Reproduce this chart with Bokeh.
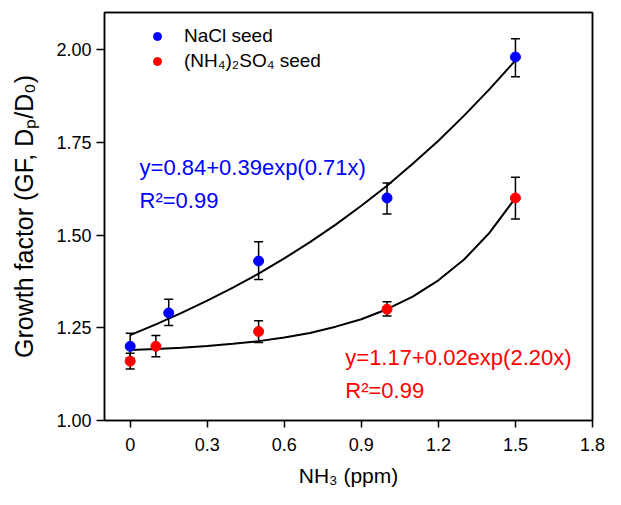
from bokeh.plotting import figure
from bokeh.models import (Range1d, FixedTicker, PrintfTickFormatter, CustomJSTickFormatter,
                          Label, Legend, LegendItem, LinearAxis)
from bokeh.embed import file_html
from bokeh.resources import INLINE

# ---------------- data ----------------
nacl_x = [0.0, 0.15, 0.5, 1.0, 1.5]
nacl_gf = [1.20, 1.29, 1.43, 1.60, 1.98]
nacl_lo = [1.168, 1.256, 1.380, 1.557, 1.927]
nacl_hi = [1.235, 1.327, 1.482, 1.640, 2.029]

as_x = [0.0, 0.1, 0.5, 1.0, 1.5]
as_gf = [1.16, 1.20, 1.24, 1.30, 1.60]
as_lo = [1.139, 1.172, 1.210, 1.282, 1.543]
as_hi = [1.181, 1.229, 1.269, 1.320, 1.656]

fit_x = [0.0, 0.1, 0.2, 0.3, 0.4, 0.5, 0.6, 0.7, 0.8, 0.9, 1.0, 1.1, 1.2, 1.3, 1.4, 1.5]
nacl_fit = [1.230, 1.259, 1.290, 1.323, 1.358, 1.396, 1.437, 1.481, 1.528, 1.579,
            1.633, 1.692, 1.754, 1.822, 1.894, 1.971]
as_fit = [1.190, 1.193, 1.196, 1.201, 1.207, 1.214, 1.224, 1.236, 1.253, 1.273,
          1.300, 1.334, 1.378, 1.434, 1.507, 1.600]

x_ticks = [0, 0.3, 0.6, 0.9, 1.2, 1.5, 1.8]
y_ticks = [1.00, 1.25, 1.50, 1.75, 2.00]

legend_labels = ["NaCl seed", "(NH\u2084)\u2082SO\u2084 seed"]
nacl_eq = ["y=0.84+0.39exp(0.71x)", "R\u00b2=0.99"]
as_eq = ["y=1.17+0.02exp(2.20x)", "R\u00b2=0.99"]
x_title = "NH\u2083 (ppm)"
y_title = "Growth factor (GF, D\u209a/D\u2080)"

# ---------------- styling ----------------
FONT = "Liberation Sans"
BLUE = "#0000FF"
RED = "#FF0000"
W, H = 605, 489
ML, MR, MT, MB = 104, 13, 12, 69
FW, FH = W - ML - MR, H - MT - MB

p = figure(width=W, height=H, x_range=Range1d(-0.1, 1.8), y_range=Range1d(1.0, 2.1),
           output_backend="svg", toolbar_location=None,
           min_border_left=ML, min_border_right=MR, min_border_top=MT, min_border_bottom=MB)
p.xgrid.visible = False
p.ygrid.visible = False
p.background_fill_color = "white"
p.border_fill_color = "white"
p.outline_line_color = "black"
p.outline_line_width = 1.5
p.outline_line_alpha = 1.0


def style_axis(ax):
    ax.axis_line_color = "black"
    ax.axis_line_width = 1.5
    ax.major_tick_line_color = "black"
    ax.major_tick_line_width = 1.5
    ax.major_tick_in = 0
    ax.minor_tick_in = 0
    ax.minor_tick_out = 0
    ax.major_label_text_font = FONT
    ax.major_label_text_font_size = "18px"
    ax.major_label_text_color = "black"
    ax.axis_label_text_font = FONT
    ax.axis_label_text_font_style = "normal"
    ax.axis_label_text_color = "black"


xa = p.xaxis[0]
style_axis(xa)
xa.ticker = FixedTicker(ticks=x_ticks)
xa.formatter = CustomJSTickFormatter(code="return tick == 0 ? '0' : tick.toFixed(1);")
xa.major_tick_out = 7
xa.major_label_standoff = 10
xa.axis_label = x_title
xa.axis_label_text_font_size = "21px"
xa.axis_label_standoff = 10

ya = p.yaxis[0]
style_axis(ya)
ya.ticker = FixedTicker(ticks=y_ticks)
ya.formatter = PrintfTickFormatter(format="%.2f")
ya.major_tick_out = 8
ya.major_label_standoff = 5
ya.axis_label = y_title
ya.axis_label_text_font_size = "25px"
ya.axis_label_standoff = 15

# closing frame lines on top and right (no ticks)
for side in ("above", "right"):
    ax = LinearAxis(ticker=FixedTicker(ticks=[]))
    style_axis(ax)
    ax.major_tick_out = 0
    p.add_layout(ax, side)

# ---------------- marks ----------------
p.line(fit_x, nacl_fit, line_color="black", line_width=2)
p.line(fit_x, as_fit, line_color="black", line_width=2)

for xs, lo, hi in ((nacl_x, nacl_lo, nacl_hi), (as_x, as_lo, as_hi)):
    p.segment(x0=xs, y0=lo, x1=xs, y1=hi, line_color="black", line_width=1.5)
    p.scatter(xs, lo, marker="dash", size=9, line_color="black", line_width=1.5)
    p.scatter(xs, hi, marker="dash", size=9, line_color="black", line_width=1.5)

r_nacl = p.scatter(nacl_x, nacl_gf, marker="circle", size=10, fill_color=BLUE, line_color=BLUE)
r_as = p.scatter(as_x, as_gf, marker="circle", size=10, fill_color=RED, line_color=RED)

legend = Legend(items=[LegendItem(label=legend_labels[0], renderers=[r_nacl]),
                       LegendItem(label=legend_labels[1], renderers=[r_as])],
                location=(43, FH - 60), padding=0, margin=0, spacing=3,
                glyph_width=20, glyph_height=22, label_height=22, label_standoff=17,
                label_text_font=FONT, label_text_font_size="19px", label_text_color="black",
                background_fill_alpha=0, border_line_alpha=0)
p.add_layout(legend, "center")

# ---------------- equations ----------------
for txt, yy in zip(nacl_eq, (1.683, 1.594)):
    p.add_layout(Label(x=0.0365, y=yy, text=txt, text_font=FONT, text_font_size="22px",
                       text_color=BLUE, text_baseline="alphabetic", text_align="left"))
for txt, yy in zip(as_eq, (1.169, 1.0815)):
    p.add_layout(Label(x=0.8375, y=yy, text=txt, text_font=FONT, text_font_size="22px",
                       text_color=RED, text_baseline="alphabetic", text_align="left"))

open("out.html", "w").write(file_html(p, INLINE))
